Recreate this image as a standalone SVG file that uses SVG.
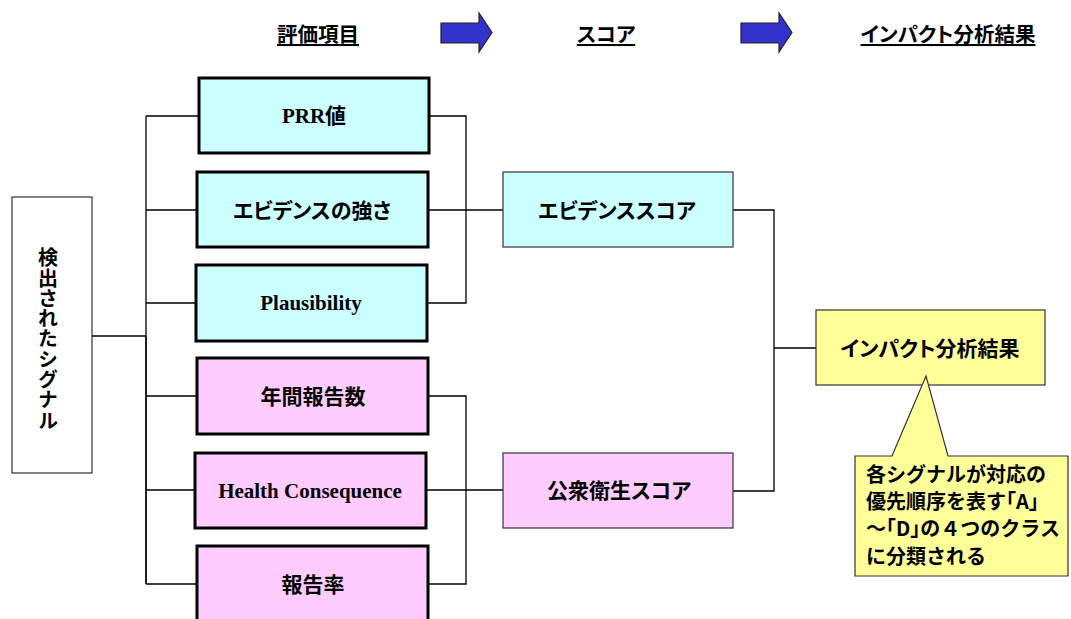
<svg xmlns="http://www.w3.org/2000/svg" width="1071" height="619" viewBox="0 0 1071 619">
<style>
.jp{font-family:"Noto Sans CJK JP","Liberation Sans",sans-serif;font-weight:bold;fill:#000;}
.pj{font-feature-settings:"palt";}
.en{font-family:"Liberation Serif","Noto Sans CJK JP",serif;font-weight:bold;fill:#000;font-size:21px;}
.hdr{font-size:20.5px;text-decoration:underline;}
.eval{stroke:#000;stroke-width:3;}
.thin{stroke:#333;stroke-width:1.2;}
.cy{fill:#CCFFFF;}
.pk{fill:#FFCCFF;}
.yl{fill:#FFFF99;}
.conn{fill:none;stroke:#000;stroke-width:1.3;}
.arrow{fill:#3333CC;stroke:#222;stroke-width:1.2;}
.co{font-size:20px;}
</style>

<g id="header">
  <text class="jp hdr" x="318" y="42" text-anchor="middle">評価項目</text>
  <text class="jp hdr pj" x="606" y="42" text-anchor="middle">スコア</text>
  <text class="jp hdr pj" x="948" y="42" text-anchor="middle">インパクト分析結果</text>
  <path class="arrow" d="M441,23 L479,23 L479,13 L492,32.5 L479,52 L479,43 L441,43 Z"/>
  <path class="arrow" d="M741,23 L779,23 L779,13 L792,32.5 L779,52 L779,43 L741,43 Z"/>
</g>

<g id="connectors">
  <path class="conn" d="M92,336 H146" stroke-width="2"/>
  <path class="conn" d="M146,116 V584"/>
  <path class="conn" d="M146,336 V584" stroke-width="1.8"/>
  <path class="conn" d="M146,116 H199 M146,210 H197 M146,303 H196 M146,396 H197 M146,490 H195 M146,584 H197"/>
  <path class="conn" d="M429,116 H466 V303 H427 M428,210 H466"/>
  <path class="conn" d="M466,210 H503" stroke-width="2"/>
  <path class="conn" d="M428,396 H466 V584 H428 M426,490 H503"/>
  <path class="conn" d="M733,210 H774 V491 H733 M774,348 H816"/>
</g>

<g id="signal">
  <rect x="12" y="197" width="80" height="276" fill="#fff" stroke="#333" stroke-width="1.2"/>
  <text class="jp" font-size="20" x="48" y="339" text-anchor="middle" writing-mode="vertical-rl" letter-spacing="0.3">検出されたシグナル</text>
</g>

<g id="prr">
  <rect class="eval cy" x="199" y="78" width="230" height="75"/>
  <text class="en" x="314" y="123" text-anchor="middle">PRR値</text>
</g>
<g id="evidence-strength">
  <rect class="eval cy" x="197" y="172" width="231" height="75"/>
  <text class="jp pj" font-size="21" x="312" y="218" text-anchor="middle">エビデンスの強さ</text>
</g>
<g id="plausibility">
  <rect class="eval cy" x="196" y="265" width="231" height="76"/>
  <text class="en" x="311" y="310" text-anchor="middle">Plausibility</text>
</g>
<g id="annual-reports">
  <rect class="eval pk" x="197" y="358" width="231" height="76"/>
  <text class="jp" font-size="21" x="313" y="404" text-anchor="middle">年間報告数</text>
</g>
<g id="health-consequence">
  <rect class="eval pk" x="195" y="453" width="231" height="75"/>
  <text class="en" x="310" y="498" text-anchor="middle">Health Consequence</text>
</g>
<g id="report-rate">
  <rect class="eval pk" x="197" y="546" width="231" height="76"/>
  <text class="jp" font-size="21" x="313" y="592" text-anchor="middle">報告率</text>
</g>

<g id="evidence-score">
  <rect class="thin cy" x="503" y="172" width="230" height="75"/>
  <text class="jp pj" font-size="21" x="617" y="218" text-anchor="middle">エビデンススコア</text>
</g>
<g id="public-health-score">
  <rect class="thin pk" x="503" y="453" width="230" height="75"/>
  <text class="jp pj" font-size="21" x="619" y="498" text-anchor="middle">公衆衛生スコア</text>
</g>

<g id="impact-result">
  <rect class="thin yl" x="816" y="310" width="229" height="75"/>
  <text class="jp pj" font-size="21" x="930" y="356" text-anchor="middle">インパクト分析結果</text>
</g>

<g id="callout">
  <path class="thin yl" d="M855,456 L892,456 L926,376 L948,456 L1068,456 L1068,576 L855,576 Z"/>
  <text class="jp co" x="866" y="481.5">各シグナルが対応の</text>
  <text class="jp co" x="866" y="508.5">優先順序を表す｢A｣</text>
  <text class="jp co" x="866" y="536">～｢D｣の４つのクラス</text>
  <text class="jp co" x="866" y="563.5">に分類される</text>
</g>
</svg>
